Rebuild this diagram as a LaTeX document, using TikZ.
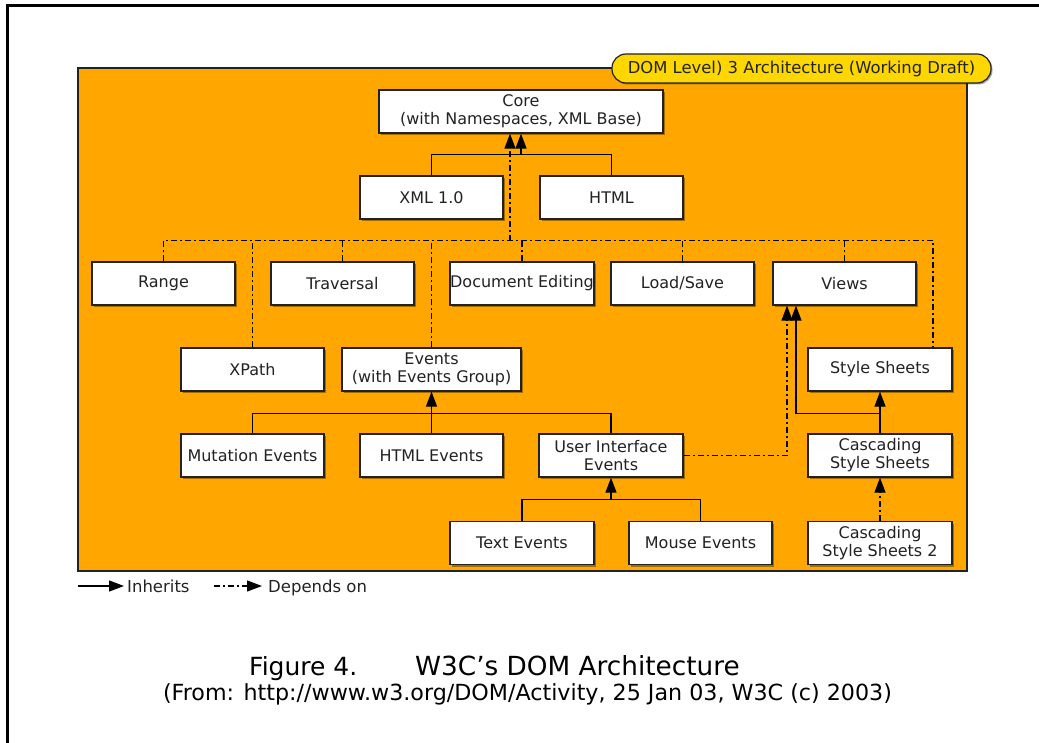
\documentclass[tikz,border=0pt]{standalone}
\usepackage{fontspec}
\setmainfont{DejaVu Sans}
\usetikzlibrary{arrows.meta,shadows,calc}
\definecolor{dorange}{RGB}{255,166,0}
\definecolor{dyellow}{RGB}{255,215,0}
\definecolor{ink}{RGB}{34,34,34}
\begin{document}
\begin{tikzpicture}[x=1pt,y=-1pt,
  box/.style={draw=ink, line width=1.3pt, fill=white, minimum width=143pt, minimum height=43pt,
    inner sep=0pt, align=center, text=ink, font=\fontsize{16}{18}\selectfont,
    drop shadow={shadow xshift=2pt, shadow yshift=-2pt, opacity=0.35, fill=black}},
  conn/.style={draw=black, line width=1.3pt},
  inh/.style={conn, -{Triangle[width=11pt,length=15pt]}},
  dep/.style={conn, dash pattern=on 6pt off 3pt on 2pt off 3pt},
  depa/.style={dep, -{Triangle[width=11pt,length=15pt]}},
  legendtxt/.style={anchor=base west, text=ink, inner sep=0pt, font=\fontsize{16.5}{18}\selectfont},
]
\useasboundingbox (0,0) rectangle (1039,743);
% outer frame (left and top edges)
\draw[line width=3pt] (7,743) -- (7,6) -- (1039,6);
% orange panel
\fill[dorange] (78,68) rectangle (967,571);
\draw[ink, line width=1.5pt] (78,68) rectangle (967,571);
% badge
\node[draw=ink, line width=1.2pt, fill=dyellow, rounded corners=14pt, minimum width=379pt,
  minimum height=29pt, inner sep=0pt, text=ink, font=\fontsize{16.4}{18}\selectfont,
  drop shadow={shadow xshift=1.5pt, shadow yshift=-1.5pt, opacity=0.35, fill=black}]
  (badge) at (801.5,68.5) {DOM Level) 3 Architecture (Working Draft)};

% nodes
\node[box, minimum width=284pt] (core) at (521,111.5) {Core\\(with Namespaces, XML Base)};
\node[box] (xml) at (431.5,197.5) {XML 1.0};
\node[box] (html) at (611.5,197.5) {HTML};
\node[box] (range) at (163.5,283.5) {Range};
\node[box] (trav) at (342.5,283.5) {Traversal};
\node[box, minimum width=144pt] (docedit) at (522,283.5) {Document Editing};
\node[box] (loadsave) at (682.5,283.5) {Load/Save};
\node[box] (views) at (844.5,283.5) {Views};
\node[box] (xpath) at (252.5,369.5) {XPath};
\node[box, minimum width=179pt] (events) at (431.5,369.5) {Events\\(with Events Group)};
\node[box, minimum width=144pt] (ss) at (880,369.5) {Style Sheets};
\node[box] (mut) at (252.5,455.5) {Mutation Events};
\node[box] (htmlev) at (431.5,455.5) {HTML Events};
\node[box, minimum width=144pt] (uiev) at (611,455.5) {User Interface\\Events};
\node[box, minimum width=144pt] (css) at (880,455.5) {Cascading\\Style Sheets};
\node[box, minimum width=144pt] (textev) at (522,543) {Text Events};
\node[box] (mouseev) at (700.5,543) {Mouse Events};
\node[box, minimum width=144pt] (css2) at (880,543) {Cascading\\Style Sheets 2};

% junction coordinates
\coordinate (cj) at ($(core.south)+(0,21)$);
\coordinate (coredep) at ($(core.south)+(-11,0)$);
\coordinate (bus) at ($(core.south)+(-11,107)$);
\coordinate (ssd) at ($(ss.north)+(53,0)$);
\coordinate (ej) at ($(events.south)+(0,22)$);
\coordinate (uj) at ($(uiev.south)+(0,21.5)$);
\coordinate (sj) at ($(ss.south)+(0,22)$);
\coordinate (vinh) at ($(views.south)+(-48.5,0)$);
\coordinate (vdep) at ($(views.south)+(-57.5,0)$);

% depends-on bus
\draw[dep] (range.north) |- (bus) -| (ssd);
\draw[depa] (bus) -- (coredep);
\draw[dep] (xpath.north) -- (xpath.north |- bus);
\draw[dep] (trav.north) -- (trav.north |- bus);
\draw[dep] (events.north) -- (events.north |- bus);
\draw[dep] (docedit.north) -- (docedit.north |- bus);
\draw[dep] (loadsave.north) -- (loadsave.north |- bus);
\draw[dep] (views.north) -- (views.north |- bus);
\draw[depa] (uiev.east) -| (vdep);
\draw[depa] (css2.north) -- (css.south);

% inherits
\draw[conn] (xml.north) |- (cj) -| (html.north);
\draw[inh] (cj) -- (core.south);
\draw[conn] (mut.north) |- (ej) -| (uiev.north);
\draw[conn] (htmlev.north) -- (ej);
\draw[inh] (ej) -- (events.south);
\draw[conn] (textev.north) |- (uj) -| (mouseev.north);
\draw[inh] (uj) -- (uiev.south);
\draw[inh] (css.north) -- (ss.south);
\draw[inh] (sj) -| (vinh);

% legend
\coordinate (l1a) at (78,586);
\coordinate (l1b) at (124,586);
\draw[inh] (l1a) -- (l1b);
\node[legendtxt] (inhtxt) at (127,592) {Inherits};
\coordinate (l2a) at (214,586);
\coordinate (l2b) at (262,586);
\draw[depa] (l2a) -- (l2b);
\node[legendtxt] (deptxt) at (268,592) {Depends on};

% caption
\node[anchor=base west, inner sep=0pt, font=\fontsize{25}{30}\selectfont] (fig) at (249,675) {Figure 4.};
\node[anchor=base west, inner sep=0pt, font=\fontsize{26.3}{30}\selectfont] (title) at (415,675) {W3C’s DOM Architecture};
\node[anchor=base, inner sep=0pt, font=\fontsize{22.2}{26}\selectfont] (src) at (527.5,700) {(From: http://www.w3.org/DOM/Activity, 25 Jan 03, W3C (c) 2003)};
\end{tikzpicture}
\end{document}
